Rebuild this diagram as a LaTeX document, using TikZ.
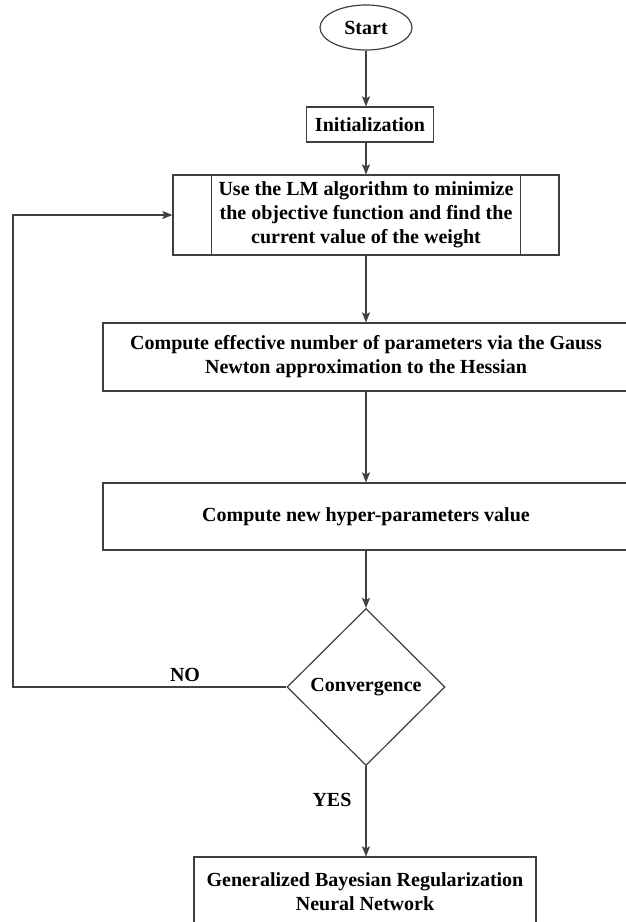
\documentclass[tikz,border=0pt]{standalone}
\usepackage{fontspec}
\setmainfont{Liberation Serif}
\usetikzlibrary{shapes.geometric,arrows.meta}

\begin{document}
\begin{tikzpicture}[x=1pt,y=-1pt,
        every node/.style={font=\fontsize{20}{24}\selectfont\bfseries,text=black},
        box/.style={draw=black!75,line width=1.2pt,rectangle,inner sep=0pt,align=center},
        term/.style={draw=black!75,line width=1.2pt,ellipse,inner sep=0pt},
        decision/.style={draw=black!75,line width=1.2pt,diamond,inner sep=0pt},
        arr/.style={draw=black!75,line width=1.2pt,-{Stealth[length=10pt,width=8pt,inset=2pt]}}]
                        \useasboundingbox (0,0) rectangle (626,922);
                        \node[term,minimum width=92,minimum height=45] (start) at (366,27.5) {Start};
                        \node[box,minimum width=127,minimum height=35] (init) at (370,124.5) {Initialization};
                        \node[box,minimum width=386,minimum height=80] (lm) at (366,215) {Use the LM algorithm to minimize\\the objective function and find the\\current value of the weight};
                        \draw[draw=black!75,line width=1.2pt] ([xshift=39pt]lm.north west) -- ([xshift=39pt]lm.south west);
                        \draw[draw=black!75,line width=1.2pt] ([xshift=-39pt]lm.north east) -- ([xshift=-39pt]lm.south east);
                        \node[box,minimum width=526,minimum height=68] (eff) at (366,357) {Compute effective number of parameters via the Gauss\\Newton approximation to the Hessian};
                        \node[box,minimum width=526,minimum height=67] (hyp) at (366,516.5) {Compute new hyper-parameters value};
                        \node[decision,minimum width=158,minimum height=157] (conv) at (366,687) {Convergence};
                        \node[box,minimum width=342,minimum height=70] (final) at (365,892) {Generalized Bayesian Regularization\\Neural Network};

                        \coordinate (loop) at (13,687);
                        \node (no) at (185,675) {NO};
                        \node (yes) at (332,800) {YES};

                        \draw[arr] (start.south) -- (start.south |- init.north);
                        \draw[arr] (start.south |- init.south) -- (start.south |- lm.north);
                        \draw[arr] (lm.south) -- (eff.north);
                        \draw[arr] (eff.south) -- (hyp.north);
                        \draw[arr] (hyp.south) -- (conv.north);
                        \draw[arr] (conv.west) -- (loop) |- (lm.west);
                        \draw[arr] (conv.south) -- (conv.south |- final.north);
                    \end{tikzpicture}
\end{document}
